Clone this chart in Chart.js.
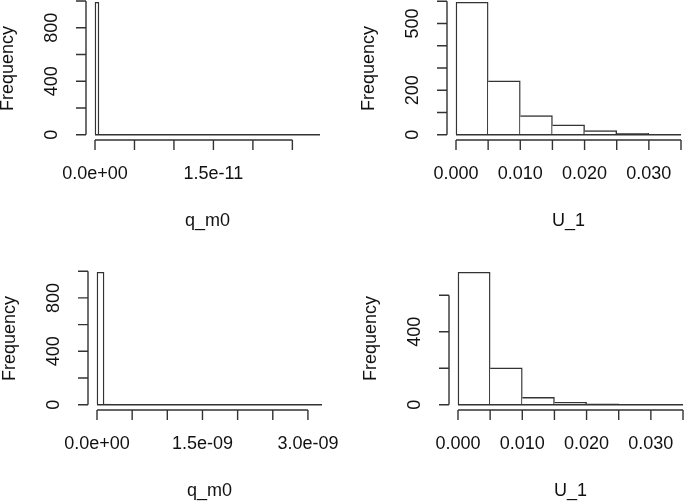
<!DOCTYPE html>
<html>
<head>
<meta charset="utf-8">
<script src="https://cdn.jsdelivr.net/npm/chart.js@4/dist/chart.umd.min.js"></script>
<style>
  html, body { margin: 0; padding: 0; background: #fff; }
  #figure { position: relative; width: 685px; height: 501px; overflow: hidden; background: #fff; }
  #figure canvas { position: absolute; }
</style>
</head>
<body>
<div id="figure">
  <canvas id="qm0Top" width="360" height="280" style="left:0px;top:-23px"></canvas>
  <canvas id="u1Top" width="360" height="280" style="left:361px;top:-23px"></canvas>
  <canvas id="qm0Bottom" width="360" height="280" style="left:2px;top:247px"></canvas>
  <canvas id="u1Bottom" width="360" height="280" style="left:363px;top:247px"></canvas>
</div>
<script>
// top left: q_m0
const qm0TopBinWidth = 5e-13;
const qm0TopCounts = [
  990, 3, 2, 0, 1, 0, 0, 1, 0, 0,
  0, 0, 0, 0, 0, 0, 0, 0, 0, 0,
  0, 0, 0, 0, 0, 0, 0, 0, 0, 0,
  0, 0, 0, 0, 0, 0, 0, 0, 0, 0,
  0, 0, 0, 0, 0, 0, 0, 0, 0, 0,
  0, 0, 0, 0, 0, 0, 1
];
const qm0TopXTicks = [0, 5e-12, 1e-11, 1.5e-11, 2e-11, 2.5e-11];
const qm0TopXLabels = ['0.0e+00', '', '', '1.5e-11', '', ''];
const qm0TopYTicks = [0, 200, 400, 600, 800, 1000];
const qm0TopYLabels = ['0', '', '400', '', '800', ''];

// top right: U_1
const u1TopBinWidth = 0.005;
const u1TopCounts = [595, 242, 86, 44, 18, 6, 1];
const u1TopXTicks = [0, 0.005, 0.01, 0.015, 0.02, 0.025, 0.03, 0.035];
const u1TopXLabels = ['0.000', '', '0.010', '', '0.020', '', '0.030', ''];
const u1TopYTicks = [0, 100, 200, 300, 400, 500, 600];
const u1TopYLabels = ['0', '', '200', '', '', '500', ''];

// bottom left: q_m0
const qm0BottomBinWidth = 1e-10;
const qm0BottomCounts = [
  992, 4, 1, 0, 1, 0, 0, 0, 0, 0,
  0, 0, 0, 0, 0, 0, 0, 0, 0, 0,
  0, 0, 0, 0, 0, 0, 0, 0, 0, 0,
  0, 1
];
const qm0BottomXTicks = [0, 5e-10, 1e-9, 1.5e-9, 2e-9, 2.5e-9, 3e-9];
const qm0BottomXLabels = ['0.0e+00', '', '', '1.5e-09', '', '', '3.0e-09'];
const qm0BottomYTicks = [0, 200, 400, 600, 800, 1000];
const qm0BottomYLabels = ['0', '', '400', '', '800', ''];

// bottom right: U_1
const u1BottomBinWidth = 0.005;
const u1BottomCounts = [726, 202, 40, 13, 5, 0, 1];
const u1BottomXTicks = [0, 0.005, 0.01, 0.015, 0.02, 0.025, 0.03, 0.035];
const u1BottomXLabels = ['0.000', '', '0.010', '', '0.020', '', '0.030', ''];
const u1BottomYTicks = [0, 200, 400, 600];
const u1BottomYLabels = ['0', '', '400', ''];

const LINE = '#333';
const LW = 1.4;
const TEXT = '#111';
const FONT = '18px "Liberation Sans", Arial, sans-serif';
const TICK = 10;

// R style axes: line only between first and last tick, labels at mgp lines
const rAxes = {
  id: 'rAxes',
  afterDraw(chart, args, o) {
    const { ctx, chartArea: a, scales: { x, y } } = chart;
    ctx.save();
    ctx.strokeStyle = LINE;
    ctx.lineWidth = LW;
    ctx.beginPath();
    ctx.moveTo(x.getPixelForValue(o.xTicks[0]), a.bottom);
    ctx.lineTo(x.getPixelForValue(o.xTicks[o.xTicks.length - 1]), a.bottom);
    o.xTicks.forEach((v) => {
      const px = x.getPixelForValue(v);
      ctx.moveTo(px, a.bottom);
      ctx.lineTo(px, a.bottom + TICK);
    });
    ctx.moveTo(a.left, y.getPixelForValue(o.yTicks[0]));
    ctx.lineTo(a.left, y.getPixelForValue(o.yTicks[o.yTicks.length - 1]));
    o.yTicks.forEach((v) => {
      const py = y.getPixelForValue(v);
      ctx.moveTo(a.left, py);
      ctx.lineTo(a.left - TICK, py);
    });
    ctx.stroke();

    ctx.fillStyle = TEXT;
    ctx.font = FONT;
    ctx.textAlign = 'center';
    ctx.textBaseline = 'middle';
    o.xTicks.forEach((v, i) => {
      if (o.xLabels[i]) ctx.fillText(o.xLabels[i], x.getPixelForValue(v), a.bottom + 34.5);
    });
    ctx.fillText(o.xTitle, (a.left + a.right) / 2, a.bottom + 81.5);

    const vText = (txt, px, py) => {
      ctx.save();
      ctx.translate(px, py);
      ctx.rotate(-Math.PI / 2);
      ctx.fillText(txt, 0, 0);
      ctx.restore();
    };
    o.yTicks.forEach((v, i) => {
      if (o.yLabels[i]) vText(o.yLabels[i], a.left - 33.5, y.getPixelForValue(v));
    });
    vText(o.yTitle, a.left - 78, (a.top + a.bottom) / 2);
    ctx.restore();
  }
};

const makeHist = (id, binWidth, counts, xTicks, xLabels, yTicks, yLabels, xTitle) => {
  const lastBreak = binWidth * counts.length;
  const maxCount = Math.max(...counts);
  const bars = counts.map((c, i) => ({ x: (i + 0.5) * binWidth, y: c }));

  new Chart(document.getElementById(id), {
    type: 'bar',
    data: {
      datasets: [
        {
          data: bars,
          order: 1,
          backgroundColor: '#fff',
          borderColor: LINE,
          borderSkipped: false,
          // shared edges drawn once: right side of every bar, left side of the first
          borderWidth: (c) => ({ top: LW, bottom: 0, right: LW, left: c.dataIndex === 0 ? LW : 0 }),
          categoryPercentage: 1,
          barPercentage: 1,
        },
        {
          // bottoms of all bins, empty ones included
          type: 'line',
          order: 0,
          data: [{ x: 0, y: 0 }, { x: lastBreak, y: 0 }],
          borderColor: LINE,
          borderWidth: LW,
          pointRadius: 0,
        },
      ],
    },
    options: {
      responsive: false,
      animation: false,
      layout: { padding: { left: 86, top: 20, right: 31, bottom: 117 } },
      plugins: {
        legend: { display: false },
        tooltip: { enabled: false },
        rAxes: { xTicks, xLabels, yTicks, yLabels, xTitle, yTitle: 'Frequency' },
      },
      scales: {
        x: {
          type: 'linear',
          display: false,
          offset: false,
          min: -0.04 * lastBreak,
          max: 1.04 * lastBreak,
          afterBuildTicks: (s) => { s.ticks = xTicks.map((v) => ({ value: v })); },
        },
        y: {
          display: false,
          min: -0.04 * maxCount,
          max: 1.04 * maxCount,
          afterBuildTicks: (s) => { s.ticks = yTicks.map((v) => ({ value: v })); },
        },
      },
    },
    plugins: [rAxes],
  });
};

makeHist('qm0Top', qm0TopBinWidth, qm0TopCounts, qm0TopXTicks, qm0TopXLabels, qm0TopYTicks, qm0TopYLabels, 'q_m0');
makeHist('u1Top', u1TopBinWidth, u1TopCounts, u1TopXTicks, u1TopXLabels, u1TopYTicks, u1TopYLabels, 'U_1');
makeHist('qm0Bottom', qm0BottomBinWidth, qm0BottomCounts, qm0BottomXTicks, qm0BottomXLabels, qm0BottomYTicks, qm0BottomYLabels, 'q_m0');
makeHist('u1Bottom', u1BottomBinWidth, u1BottomCounts, u1BottomXTicks, u1BottomXLabels, u1BottomYTicks, u1BottomYLabels, 'U_1');
</script>
</body>
</html>
